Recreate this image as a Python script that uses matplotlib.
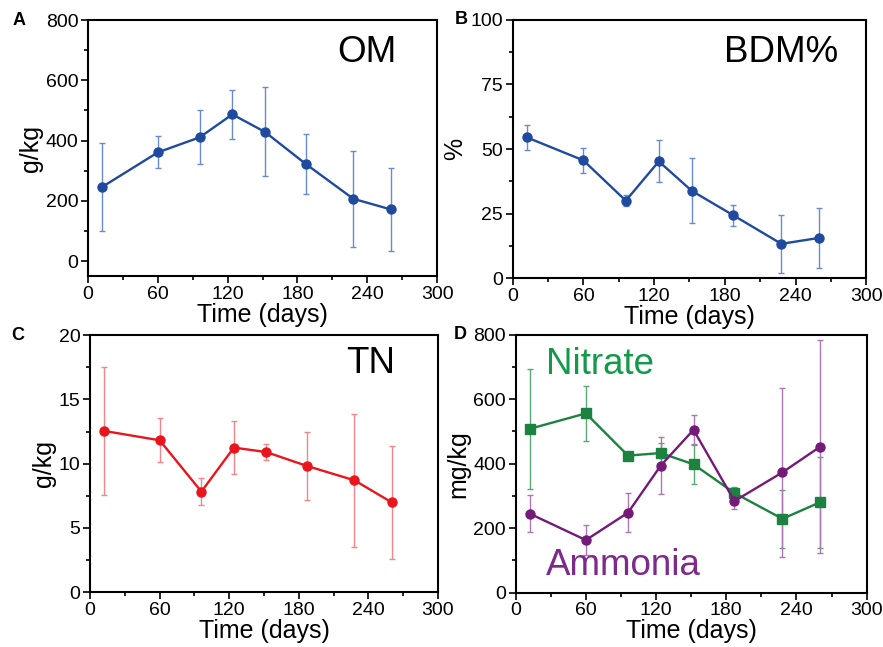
import matplotlib
matplotlib.use("Agg")
import matplotlib.pyplot as plt
from matplotlib.ticker import MultipleLocator

plt.rcParams["font.family"] = ["Liberation Sans", "DejaVu Sans"]

# sampling days (shared by all panels)
days = [12, 60, 96, 124, 152, 187, 228, 260]

om = [246, 361, 411, 487, 429, 323, 207, 172]
om_err = [146, 53, 89, 81, 148, 100, 160, 137]

bdm = [54.5, 45.6, 30.0, 45.2, 33.8, 24.4, 13.3, 15.6]
bdm_err = [4.9, 4.9, 2.2, 8.1, 12.6, 4.1, 11.2, 11.5]

tn = [12.55, 11.82, 7.82, 11.25, 10.9, 9.82, 8.7, 6.99]
tn_err = [5.0, 1.7, 1.07, 2.05, 0.62, 2.67, 5.17, 4.4]

nitrate = [508, 556, 425, 433, 398, 309, 229, 280]
nitrate_err = [186, 86, 8, 30, 60, 20, 89, 141]

ammonia = [245, 163, 248, 394, 505, 284, 373, 452]
ammonia_err = [57, 47, 60, 89, 45, 26, 262, 330]

BLUE, BLUE_ERR = "#1f4a9e", "#6a8ccc"
RED, RED_ERR = "#e8161c", "#f4868a"
GREEN, GREEN_ERR = "#1b8240", "#5aa876"
PURPLE, PURPLE_ERR = "#741a78", "#ad78b2"


def series(ax, y, err, color, ecolor, marker="o"):
    ax.errorbar(days, y, yerr=err, fmt="none", ecolor=ecolor, elinewidth=1.0,
                capsize=2.2, capthick=1.0, zorder=2)
    ax.plot(days, y, "-", marker=marker, color=color, linewidth=1.7,
            markersize=6.5, zorder=3)


def style(ax, ylim, ymajor, letter, letter_x, ylabel):
    ax.set_xlim(0, 300)
    ax.set_ylim(*ylim)
    ax.xaxis.set_major_locator(MultipleLocator(60))
    ax.xaxis.set_minor_locator(MultipleLocator(30))
    ax.yaxis.set_major_locator(MultipleLocator(ymajor))
    ax.yaxis.set_minor_locator(MultipleLocator(ymajor / 2))
    ax.tick_params(which="both", direction="out", top=False, right=False,
                   labelsize=14, width=1.2)
    ax.tick_params(which="major", length=5, pad=2)
    ax.tick_params(which="minor", length=3)
    for sp in ax.spines.values():
        sp.set_linewidth(1.5)
    ax.set_xlabel("Time (days)", fontsize=18, labelpad=0)
    ax.set_ylabel(ylabel, fontsize=18, labelpad=2)
    ax.text(letter_x, 1.0, letter, transform=ax.transAxes, fontsize=13,
            fontweight="bold", ha="center", va="center")


fig = plt.figure(figsize=(8.83, 6.47), dpi=100)
ax_a = fig.add_axes([0.0997, 0.573, 0.3953, 0.396])
ax_b = fig.add_axes([0.5806, 0.570, 0.4004, 0.3994])
ax_c = fig.add_axes([0.102, 0.085, 0.394, 0.3968])
ax_d = fig.add_axes([0.584, 0.084, 0.3975, 0.3987])

series(ax_a, om, om_err, BLUE, BLUE_ERR)
style(ax_a, (-50, 800), 200, "A", -0.198, "g/kg")
ax_a.text(0.80, 0.875, "OM", transform=ax_a.transAxes, fontsize=26.5,
          ha="center", va="center")

series(ax_b, bdm, bdm_err, BLUE, BLUE_ERR)
style(ax_b, (0, 100), 25, "B", -0.146, "%")
ax_b.text(0.76, 0.873, "BDM%", transform=ax_b.transAxes, fontsize=26.5,
          ha="center", va="center")

series(ax_c, tn, tn_err, RED, RED_ERR)
style(ax_c, (0, 20), 5, "C", -0.207, "g/kg")
ax_c.text(0.805, 0.89, "TN", transform=ax_c.transAxes, fontsize=26.5,
          ha="center", va="center")

series(ax_d, nitrate, nitrate_err, GREEN, GREEN_ERR, marker="s")
series(ax_d, ammonia, ammonia_err, PURPLE, PURPLE_ERR)
style(ax_d, (0, 800), 200, "D", -0.157, "mg/kg")
ax_d.text(0.085, 0.883, "Nitrate", transform=ax_d.transAxes, fontsize=26.5,
          color="#129a4a", ha="left", va="center")
ax_d.text(0.085, 0.107, "Ammonia", transform=ax_d.transAxes, fontsize=26.5,
          color="#7e2a8c", ha="left", va="center")

fig.savefig("out.png", dpi=100)
